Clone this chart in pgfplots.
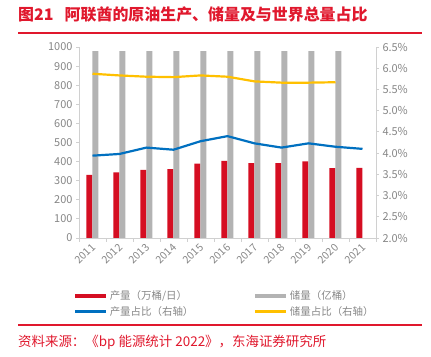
\documentclass[border=0pt]{standalone}
\usepackage{pgfplots}
\pgfplotsset{compat=1.18}
\usepackage{fontspec}
\setmainfont{Noto Sans CJK SC}
\definecolor{titlered}{HTML}{E0182D}
\definecolor{barred}{HTML}{D50E22}
\definecolor{bargray}{HTML}{B3B3B3}
\definecolor{lineblue}{HTML}{0070C0}
\definecolor{lineyellow}{HTML}{FFC000}
\definecolor{axgray}{HTML}{D0D0D0}
\definecolor{txtgray}{HTML}{868686}
\begin{document}
\begin{tikzpicture}[x=1bp,y=1bp]
\path[use as bounding box] (0,0) rectangle (431,357);
\node[anchor=west, text=titlered, font=\bfseries\fontsize{16}{18}\selectfont, inner sep=0] at (18,343) {图21\hspace{0.7em}阿联酋的原油生产、储量及与世界总量占比};
\draw[titlered, line width=1.2bp] (18,324) -- (422,324);
\draw[titlered, line width=1.2bp] (18,32) -- (422,32);
\node[anchor=west, text=titlered, font=\fontsize{13.5}{15}\selectfont, inner sep=0] at (18,15) {资料来源：《bp 能源统计 2022》，东海证券研究所};
\pgfplotsset{
  common/.style={
    at={(79bp,119bp)}, anchor=south west, scale only axis,
    width=297bp, height=191bp,
    xmin=-0.5, xmax=10.5,
    axis line style={axgray, line width=0.8bp},
    tick style={axgray, line width=0.8bp},
    tick label style={text=txtgray, font=\fontsize{11}{12}\selectfont},
    /pgf/number format/assume math mode=true,
    tick align=outside,
    major tick length=3bp,
  }
}
\begin{axis}[common,
  ymin=0, ymax=1000, ytick={0,100,...,1000},
  /pgf/number format/1000 sep={},
  axis y line*=left, axis x line*=bottom,
  xtick={0,...,10},
  xticklabels={2011,2012,2013,2014,2015,2016,2017,2018,2019,2020,2021},
  major x tick style={draw=none},
  minor xtick={-0.5,0.5,...,10.5},
  minor tick length=4bp,
  x tick label style={rotate=45, anchor=east, yshift=-4bp, xshift=1bp, font=\fontsize{10.5}{11}\selectfont},
  ybar, bar width=6bp,
]
\addplot[fill=barred, draw=none, bar shift=-3.2bp] coordinates {
(0,331) (1,343) (2,357) (3,361) (4,390) (5,404) (6,392) (7,392) (8,401) (9,366) (10,367)};
\addplot[fill=bargray, draw=none, bar shift=2.9bp] coordinates {
(0,978) (1,978) (2,978) (3,978) (4,978) (5,978) (6,978) (7,978) (8,978) (9,978)};
\end{axis}
\begin{axis}[common,
  ymin=2, ymax=6.5, ytick={2,2.5,...,6.5},
  axis y line*=right, axis x line=none,
  yticklabel={\pgfmathprintnumber[fixed,fixed zerofill,precision=1]{\tick}\%},
  legend columns=2,
  legend cell align=left,
  legend image code/.code={\draw[#1, line width=3.5bp] (0bp,0bp) -- (31bp,0bp);},
  legend style={draw=none, fill=none, at={(-0.03,-0.255)}, anchor=north west,
    font=\fontsize{10.5}{12}\selectfont, text=txtgray,
    row sep=1bp,
    /tikz/every even column/.append style={column sep=58bp}},
]
\addlegendimage{barred}
\addlegendentry{产量（万桶/日）}
\addlegendimage{bargray}
\addlegendentry{储量（亿桶）}
\addplot[lineblue, line width=2.2bp, no marks] coordinates {
(0,3.94) (1,3.98) (2,4.13) (3,4.08) (4,4.28) (5,4.40) (6,4.23) (7,4.13) (8,4.23) (9,4.15) (10,4.10)};
\addlegendentry{产量占比（右轴）}
\addplot[lineyellow, line width=2.2bp, no marks] coordinates {
(0,5.87) (1,5.83) (2,5.80) (3,5.79) (4,5.83) (5,5.80) (6,5.69) (7,5.66) (8,5.66) (9,5.67)};
\addlegendentry{储量占比（右轴）}
\end{axis}
\end{tikzpicture}
\end{document}
